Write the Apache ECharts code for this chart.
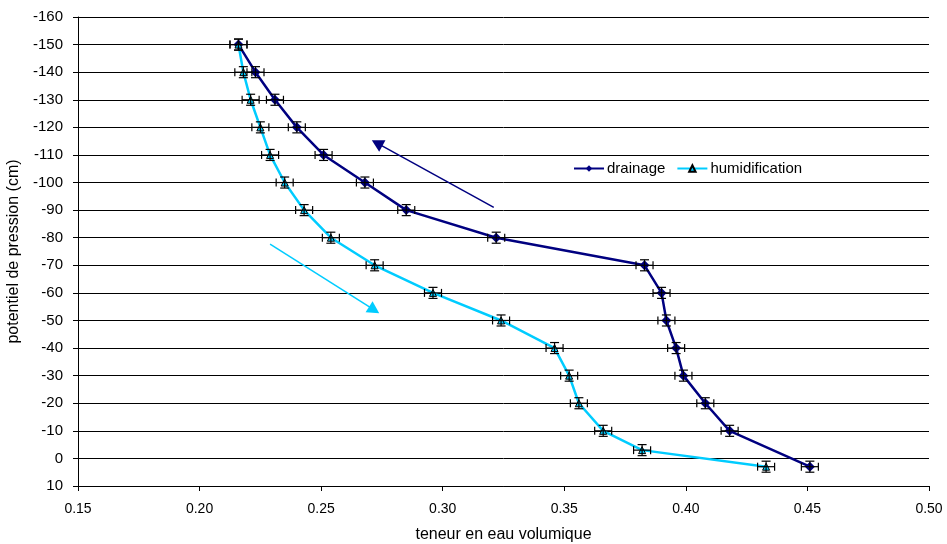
<!DOCTYPE html>
<html><head><meta charset="utf-8">
<script src="https://cdn.jsdelivr.net/npm/echarts@6/dist/echarts.min.js"></script>
<style>html,body{margin:0;padding:0;background:#fff}#c{width:947px;height:544px}</style>
</head><body><div id="c"></div>
<script>
// Data
const drainagePsi = [-150,-140,-130,-120,-110,-100,-90,-80,-70,-60,-50,-40,-30,-20,-10,3];
const drainageTheta = [0.216,0.223,0.231,0.240,0.251,0.268,0.285,0.322,0.383,0.390,0.392,0.396,0.399,0.408,0.418,0.451];
const humidPsi = [-150,-140,-130,-120,-110,-100,-90,-80,-70,-60,-50,-40,-30,-20,-10,-3,3];
const humidTheta = [0.216,0.218,0.221,0.225,0.229,0.235,0.243,0.254,0.272,0.296,0.324,0.346,0.352,0.356,0.366,0.382,0.433];
const thetaErr = 0.0035;
const psiErr = 2;
const seriesNames = ['drainage','humidification'];
const xTicks = {min:0.15, max:0.50, interval:0.05};
const yTicks = {min:-160, max:10, interval:10};
// Direction arrows (data coordinates): [tail, head]
const drainArrow = [[0.321,-91],[0.273,-114.3]];
const humidArrow = [[0.229,-77.7],[0.2718,-53.8]];

const FONT = 'Liberation Sans, Arial, sans-serif';
const navy = '#000080', sky = '#00CCFF';

function pairs(xs, ys){ return xs.map((x,i)=>[x, ys[i]]); }
const drainData = pairs(drainageTheta, drainagePsi);
const humidData = pairs(humidTheta, humidPsi);

function errRender(params, api){
  const x = api.value(0), y = api.value(1);
  const l = api.coord([x-thetaErr, y]), r = api.coord([x+thetaErr, y]);
  const t = api.coord([x, y-psiErr]), b = api.coord([x, y+psiErr]);
  const st = {stroke:'#000', lineWidth:1.2};
  const ch = 4, cw = 4.5;
  return {type:'group', children:[
    {type:'line', shape:{x1:l[0],y1:l[1],x2:r[0],y2:r[1]}, style:st},
    {type:'line', shape:{x1:l[0],y1:l[1]-ch,x2:l[0],y2:l[1]+ch}, style:st},
    {type:'line', shape:{x1:r[0],y1:r[1]-ch,x2:r[0],y2:r[1]+ch}, style:st},
    {type:'line', shape:{x1:t[0],y1:t[1],x2:b[0],y2:b[1]}, style:st},
    {type:'line', shape:{x1:t[0]-cw,y1:t[1],x2:t[0]+cw,y2:t[1]}, style:st},
    {type:'line', shape:{x1:b[0]-cw,y1:b[1],x2:b[0]+cw,y2:b[1]}, style:st}
  ]};
}

const chart = echarts.init(document.getElementById('c'), null, {renderer:'canvas'});
chart.setOption({
  animation:false,
  backgroundColor:'#fff',
  textStyle:{fontFamily:FONT},
  grid:{left:78, right:18, top:17, bottom:58, containLabel:false, outerBoundsMode:'none'},
  legend:{
    data:seriesNames, left:573, top:161, padding:0, itemWidth:30, itemHeight:8, itemGap:11,
    textStyle:{fontFamily:FONT, fontSize:15, color:'#000', padding:[0,0,0,-2]}
  },
  xAxis:{
    type:'value', min:xTicks.min, max:xTicks.max, interval:xTicks.interval,
    name:'teneur en eau volumique', nameLocation:'middle', nameGap:41,
    nameTextStyle:{fontFamily:FONT, fontSize:16, color:'#000'},
    axisLine:{show:true, onZero:false, lineStyle:{color:'#000', width:1}},
    axisTick:{show:true, length:5, lineStyle:{color:'#000'}},
    axisLabel:{fontFamily:FONT, fontSize:14, color:'#000', margin:16, formatter:v=>v.toFixed(2)},
    splitLine:{show:false}
  },
  yAxis:{
    type:'value', inverse:true, min:yTicks.min, max:yTicks.max, interval:yTicks.interval,
    name:'potentiel de pression (cm)', nameLocation:'middle', nameGap:51,
    nameTextStyle:{fontFamily:FONT, fontSize:16, color:'#000'},
    axisLine:{show:true, onZero:false, lineStyle:{color:'#000', width:1}},
    axisTick:{show:true, length:5, lineStyle:{color:'#000'}},
    axisLabel:{fontFamily:FONT, fontSize:15, color:'#000', margin:15},
    splitLine:{show:true, lineStyle:{color:'#000', width:1}}
  },
  series:[
    {
      name:seriesNames[0], type:'line', data:drainData, z:3,
      symbol:'diamond', symbolSize:10,
      lineStyle:{color:navy, width:2.5}, itemStyle:{color:navy, borderColor:navy, borderWidth:0},
      markLine:{
        silent:true, symbol:['none','triangle'], symbolSize:[13,12], label:{show:false},
        lineStyle:{color:navy, width:1.5, type:'solid'},
        emphasis:{disabled:true},
        data:[[{coord:drainArrow[0]},{coord:drainArrow[1]}]]
      }
    },
    {
      name:seriesNames[1], type:'line', data:humidData, z:3,
      symbol:'triangle', symbolSize:7,
      lineStyle:{color:sky, width:2.5}, itemStyle:{color:sky, borderColor:'#000', borderWidth:1},
      markLine:{
        silent:true, symbol:['none','triangle'], symbolSize:[13,12], label:{show:false},
        lineStyle:{color:sky, width:1.5, type:'solid'},
        emphasis:{disabled:true},
        data:[[{coord:humidArrow[0]},{coord:humidArrow[1]}]]
      }
    },
    {type:'custom', renderItem:errRender, data:drainData, z:5, silent:true, encode:{x:0,y:1}},
    {type:'custom', renderItem:errRender, data:humidData, z:5, silent:true, encode:{x:0,y:1}}
  ]
});
</script></body></html>
